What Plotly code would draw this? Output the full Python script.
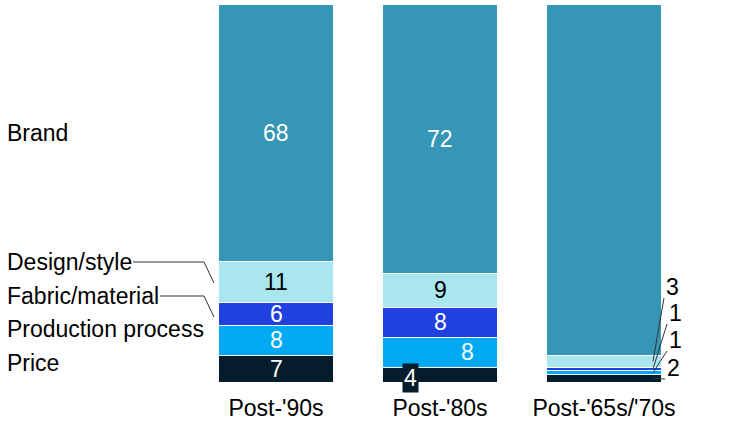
import plotly.graph_objects as go

# Generation cohorts and their tick labels
cohorts = ["Post-'90s", "Post-'80s", "Post-'65s/'70s"]

# Purchase factors, stacked bottom to top
price = [7, 4, 2]
production = [8, 8, 1]
fabric = [6, 8, 1]
design = [11, 9, 3]
brand = [68, 72, 94]

series = [
    ("Price", price, "#051C2C", "white"),
    ("Production process", production, "#00A9F4", "white"),
    ("Fabric/material", fabric, "#2140E0", "white"),
    ("Design/style", design, "#AAE6F0", "black"),
    ("Brand", brand, "#3596B5", "white"),
]

FONT = "Liberation Sans, Arial, sans-serif"
FS = 23
x = list(range(len(cohorts)))

fig = go.Figure()
for name, vals, color, _ in series:
    fig.add_trace(go.Bar(
        x=x, y=vals, name=name, marker_color=color,
        marker_line_color="white", marker_line_width=1,
        hoverinfo="skip",
    ))

# Per-cohort totals and segment midpoints (in percent, matching barnorm)
totals = [sum(s[1][i] for s in series) for i in x]
mids = {}
for i in x:
    base = 0.0
    for name, vals, _, _ in series:
        pct = vals[i] / totals[i] * 100
        mids[(name, i)] = base + pct / 2
        base += pct

annotations = []

# Values inside the first two bars
label_x = {("Production process", 1): 1.165}
for i in (0, 1):
    for name, vals, _, tcol in series:
        if name == "Price" and i == 1:
            continue
        annotations.append(dict(
            x=label_x.get((name, i), i), y=mids[(name, i)], text=str(vals[i]),
            showarrow=False, xanchor="center", yanchor="middle",
            font=dict(family=FONT, size=FS, color=tcol),
        ))

# Small price value boxed at the bottom of the second bar
annotations.append(dict(
    x=0.82, y=mids[("Price", 1)], yshift=-3, text=str(price[1]),
    showarrow=False, xanchor="center", yanchor="middle",
    bgcolor="#051C2C", borderpad=1,
    font=dict(family=FONT, size=FS, color="white"),
))

H = 428
W = 753
x0_px, step_px = 194, 164
y_bot_px, y_span_px = 382, 378


def px_to_x(px):
    return (px - x0_px) / step_px - 0.5


def px_to_y(py):
    return (y_bot_px - py) / y_span_px * 100


# Third bar: values set off to the right with leader lines
side_labels = [  # (series, label x px, label y px)
    ("Design/style", 672, 287),
    ("Fabric/material", 675, 313),
    ("Production process", 675, 340),
    ("Price", 673, 368),
]
shapes = []
vals_by_name = {s[0]: s[1] for s in series}
for name, lx, ly in side_labels:
    annotations.append(dict(
        x=lx / W, y=(H - ly) / H, xref="paper", yref="paper",
        xanchor="center", yanchor="middle",
        text=str(vals_by_name[name][2]), showarrow=False,
        font=dict(family=FONT, size=FS, color="black"),
    ))
    shapes.append(dict(
        type="line", xref="x", yref="y",
        x0=px_to_x(lx - 8), y0=px_to_y(ly + 11),
        x1=px_to_x(653), y1=mids[(name, 2)],
        line=dict(color="#333333", width=1),
    ))

# Category labels on the left
left_labels = [
    ("Brand", 133),
    ("Design/style", 262),
    ("Fabric/material", 296),
    ("Production process", 329),
    ("Price", 363),
]
for text, ly in left_labels:
    annotations.append(dict(
        x=5 / W, y=(H - ly) / H, xref="paper", yref="paper",
        xanchor="left", yanchor="middle", text=text, showarrow=False,
        font=dict(family=FONT, size=FS, color="black"),
    ))

# Leader lines from left labels to the first bar
for name, start_px, ly in (("Design/style", 133, 262), ("Fabric/material", 160, 296)):
    shapes.append(dict(
        type="path", xref="paper", yref="paper",
        path=f"M {start_px / W},{(H - ly) / H} L {204 / W},{(H - ly) / H} "
             f"L {214 / W},{(H - (ly + 21)) / H}",
        line=dict(color="#333333", width=1),
    ))

fig.update_layout(
    barmode="stack", barnorm="percent", bargap=0.293,
    width=W, height=H, margin=dict(l=0, r=0, t=0, b=0),
    plot_bgcolor="white", paper_bgcolor="white",
    showlegend=False,
    font=dict(family=FONT, size=FS, color="black"),
    xaxis=dict(domain=[194 / W, 686 / W], range=[-0.5, 2.5],
               tickvals=x, ticktext=cohorts, showgrid=False,
               zeroline=False, showline=False, ticks="",
               ticklabelstandoff=10,
               tickfont=dict(family=FONT, size=FS, color="black")),
    yaxis=dict(domain=[46 / H, 424 / H], range=[0, 100], visible=False),
    annotations=annotations, shapes=shapes,
)

fig.write_html("out.html")
